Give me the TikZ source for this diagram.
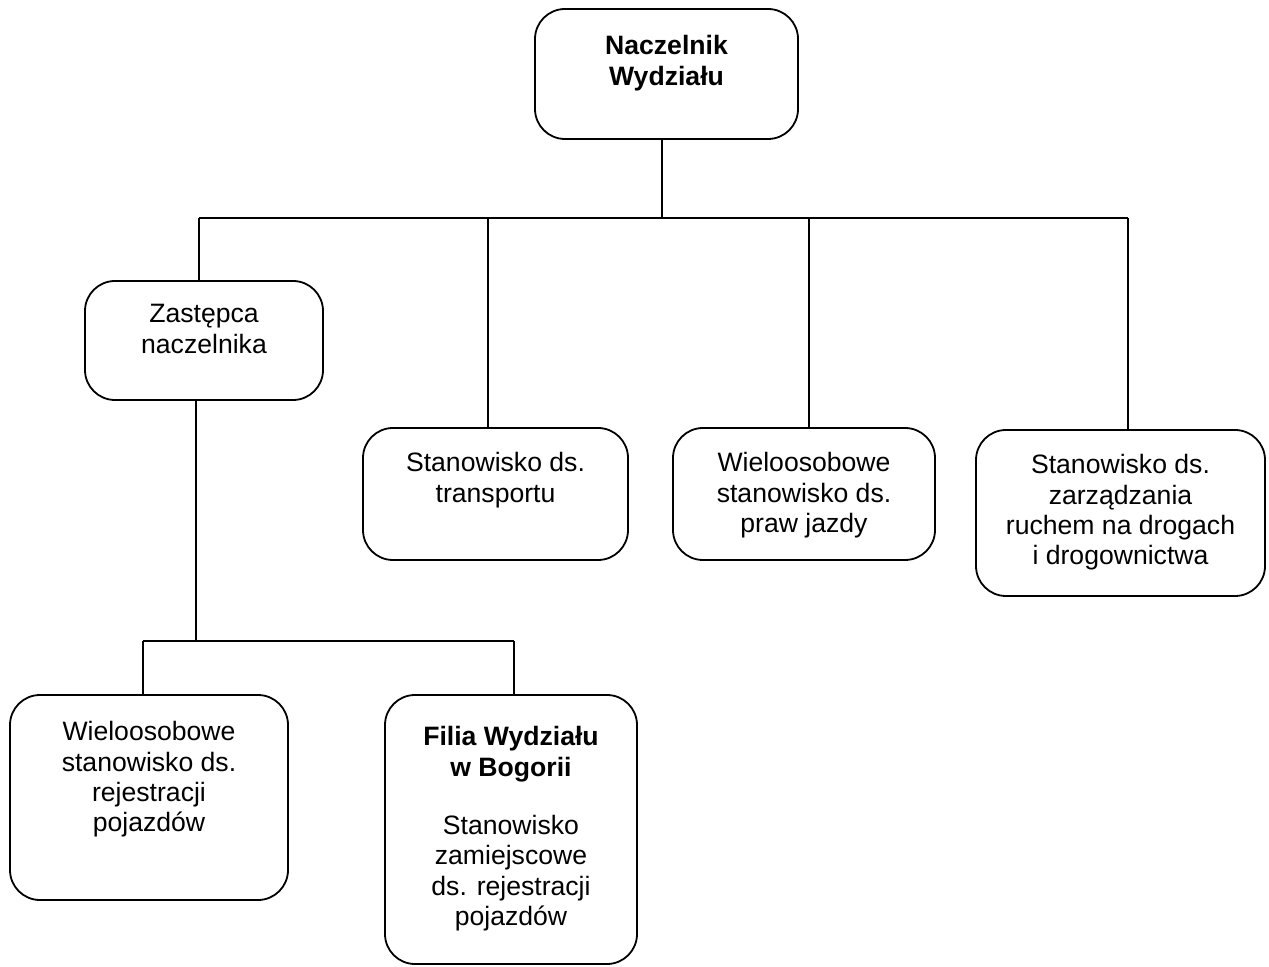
\documentclass[tikz,border=0pt]{standalone}
\usepackage{fontspec}
\setmainfont{Liberation Sans}
\usepackage{tikz}
\usetikzlibrary{positioning}

\begin{document}
\begin{tikzpicture}[x=0.5pt, y=-0.5pt,
        box/.style={draw, line width=0.9pt, rounded corners=15pt, inner sep=0pt},
        txt/.style={align=center, inner sep=0pt, font=\fontsize{13.3}{15.2}\selectfont},
        link/.style={line width=0.9pt}]
        \useasboundingbox (0,0) rectangle (1269,967);
%
        \node[box, minimum width=131.5pt, minimum height=65pt] (nacz) at (666.5,74) {};
        \node[box, minimum width=119pt, minimum height=59.5pt] (zast) at (204,340.5) {};
        \node[box, minimum width=132.5pt, minimum height=66pt] (trans) at (495.5,494) {};
        \node[box, minimum width=131pt, minimum height=66pt] (prawa) at (804,494) {};
        \node[box, minimum width=144.5pt, minimum height=83pt] (ruch) at (1120.5,513) {};
        \node[box, minimum width=139pt, minimum height=102.5pt] (rejestr) at (149,797.5) {};
        \node[box, minimum width=126pt, minimum height=134.5pt] (filia) at (511,829.5) {};
%
        \node[txt, below=13.5pt of nacz.north] (nacz-t) {\textbf{Naczelnik}\\\textbf{Wydziału}};
        \node[txt, below=12pt of zast.north] (zast-t) {Zastępca\\naczelnika};
        \node[txt, below=12.5pt of trans.north] (trans-t) {Stanowisko ds.\\transportu};
        \node[txt, below=12.5pt of prawa.north] (prawa-t) {Wieloosobowe\\stanowisko ds.\\praw jazdy};
        \node[txt, below=12.5pt of ruch.north] (ruch-t) {Stanowisko ds.\\zarządzania\\ruchem na drogach\\i drogownictwa};
        \node[txt, below=13.5pt of rejestr.north] (rejestr-t) {Wieloosobowe\\stanowisko ds.\\rejestracji\\pojazdów};
        \node[txt, below=16pt of filia.north] (filia-t) {\textbf{Filia Wydziału}\\\textbf{w Bogorii}\\[14pt]Stanowisko\\zamiejscowe\\ds. rejestracji\\pojazdów};
%
        \coordinate (top) at (662,218);
        \coordinate (b1) at (199,218);
        \coordinate (b2) at (488,218);
        \coordinate (b3) at (809,218);
        \coordinate (b4) at (1128,218);
        \coordinate (low) at (196,641);
        \coordinate (c1) at (143,641);
        \coordinate (c2) at (514,641);
%
        \draw[link] (nacz.south -| top) -- (top);
        \draw[link] (b1) -- (b4);
        \foreach \c/\n in {b1/zast, b2/trans, b3/prawa, b4/ruch}
            \draw[link] (\c) -- (\n.north -| \c);
        \draw[link] (zast.south -| low) -- (low);
        \draw[link] (c1) -- (c2);
        \draw[link] (c1) -- (rejestr.north -| c1);
        \draw[link] (c2) -- (filia.north -| c2);

\end{tikzpicture}
\end{document}
